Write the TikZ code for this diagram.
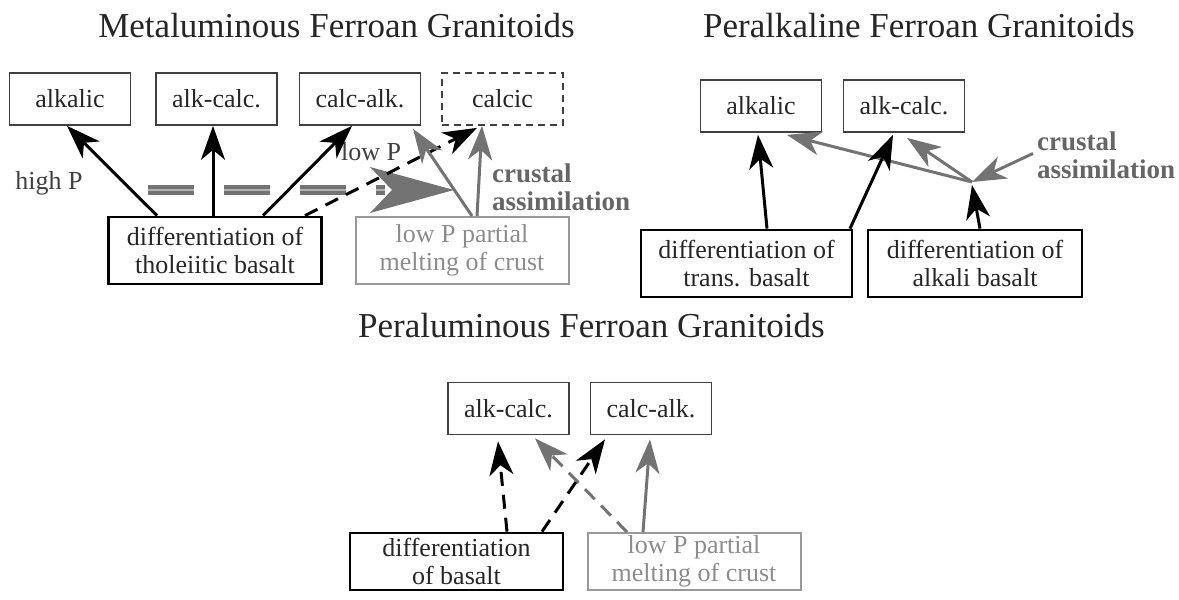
\documentclass[tikz,border=0pt]{standalone}
\usepackage{fontspec}
\setmainfont{Liberation Serif}
\newfontfamily\termsfont{Liberation Serif}
\usetikzlibrary{positioning, arrows.meta}

\begin{document}
\begin{tikzpicture}[
    x=1pt, y=-1pt,
    >={Stealth[length=34pt,width=24pt,inset=10pt]},
    on grid,
    every node/.style={font=\termsfont\fontsize{26}{28}\selectfont, text=black!85},
    rock/.style={
        draw=black!75,
        line width=1.7pt,
        minimum width=121pt,
        minimum height=52pt,
        inner sep=0pt
    },
    source/.style={
        draw=black,
        line width=2.8pt,
        align=center,
        minimum width=213pt,
        minimum height=67pt,
        inner sep=0pt
    },
    crust/.style={source, draw=black!40, text=black!45, line width=2pt},
    heading/.style={anchor=base, font=\termsfont\fontsize{35}{40}\selectfont},
    note/.style={text=black!75},
    assim/.style={
        anchor=west,
        align=left,
        inner sep=0pt,
        text=black!60,
        font=\termsfont\fontsize{27}{28}\selectfont\bfseries
    },
    blk/.style={->, line width=3pt, black},
    gry/.style={->, line width=3pt, black!55},
    dsh/.style={dash pattern=on 14pt off 9pt}
]
\useasboundingbox (0,0) rectangle (1179,600);

% metaluminous
\node[heading] (t1) at (336.5,37) {Metaluminous Ferroan Granitoids};
\node[rock] (ma) at (70,99) {alkalic};
\node[rock, right=146.5pt of ma] (mac) {alk-calc.};
\node[rock, right=143.5pt of mac] (mca) {calc-alk.};
\node[rock, right=142.5pt of mca, dash pattern=on 7pt off 5pt] (mc) {calcic};
\node[source] (mdiff) at (215,250.5) {differentiation of\\tholeiitic basalt};
\node[crust, right=247pt of mdiff] (mlp) {low P partial\\melting of crust};
\node[note] (hp) at (49,183) {high P};
\node[note] (lp) at (371,152) {low P};
\node[assim] (mcrust) at (492,187.5) {crustal\\assimilation};

% big gray arrow (low P direction)
\coordinate (bandL) at (148,190);
\coordinate (bandR) at (385,190);
\coordinate (bandtip) at (454,190);
\draw[black!55, line width=3.5pt, double=black!30, double distance=2.5pt,
      dash pattern=on 46pt off 30pt] (bandL) -- (bandR);
\fill[black!55] (bandtip) -- ([shift={(-84,-23)}]bandtip)
    -- ([shift={(-62,0)}]bandtip) -- ([shift={(-84,23)}]bandtip) -- cycle;

\path[blk]
([xshift=-58pt]mdiff.north) edge ([xshift=-3pt]ma.south)
([xshift=-2pt]mdiff.north) edge ([xshift=-3.5pt]mac.south)
([xshift=48pt]mdiff.north) edge ([xshift=-8pt]mca.south)
([xshift=90pt]mdiff.north) edge[dsh] ([xshift=-25.5pt,yshift=-2pt]mc.south);
\path[gry]
([xshift=10pt]mlp.north) edge ([xshift=53pt,yshift=-3pt]mca.south)
([xshift=15pt]mlp.north) edge ([xshift=-20.5pt]mc.south);

% peralkaline
\node[heading] (t2) at (919,37) {Peralkaline Ferroan Granitoids};
\node[rock] (pa) at (761,106) {alkalic};
\node[rock, right=143pt of pa] (pac) {alk-calc.};
\node[source, minimum width=211pt] (ptb) at (746.5,263.5) {differentiation of\\trans. basalt};
\node[source, minimum width=214pt, right=228.5pt of ptb] (pab) {differentiation of\\alkali basalt};
\node[assim] (pcrust) at (1037,155.5) {crustal\\assimilation};
\coordinate (pmix) at (972,182);

\path[gry]
(pmix) edge ([xshift=26pt,yshift=-2pt]pa.south)
(pmix) edge ([xshift=3pt,yshift=-5pt]pac.south)
([xshift=-4pt,yshift=2pt]pcrust.west) edge (pmix);
\path[blk]
([xshift=20.5pt]ptb.north) edge ([xshift=-3pt,yshift=-2pt]pa.south)
([xshift=103.5pt]ptb.north) edge ([xshift=-11pt,yshift=-2pt]pac.south)
([xshift=5pt]pab.north) edge ([yshift=-3pt]pmix);

% peraluminous
\node[heading] (t3) at (591.5,337) {Peraluminous Ferroan Granitoids};
\node[rock] (bac) at (508.5,408.5) {alk-calc.};
\node[rock, right=142.5pt of bac] (bca) {calc-alk.};
\node[source, minimum height=57pt] (bdiff) at (456.5,561.5) {differentiation\\of basalt};
\node[crust, minimum height=57pt, right=237.5pt of bdiff] (blp) {low P partial\\melting of crust};

\path[gry]
([xshift=-67pt]blp.north) edge[dsh] ([xshift=26.5pt,yshift=-3pt]bac.south)
([xshift=-51pt]blp.north) edge ([xshift=-1pt,yshift=-4pt]bca.south);
\path[blk]
([xshift=50.5pt]bdiff.north) edge[dsh] ([xshift=-10.5pt,yshift=-6pt]bac.south)
([xshift=85.5pt]bdiff.north) edge[dsh] ([xshift=-46pt,yshift=-4pt]bca.south);
\end{tikzpicture}
\end{document}
